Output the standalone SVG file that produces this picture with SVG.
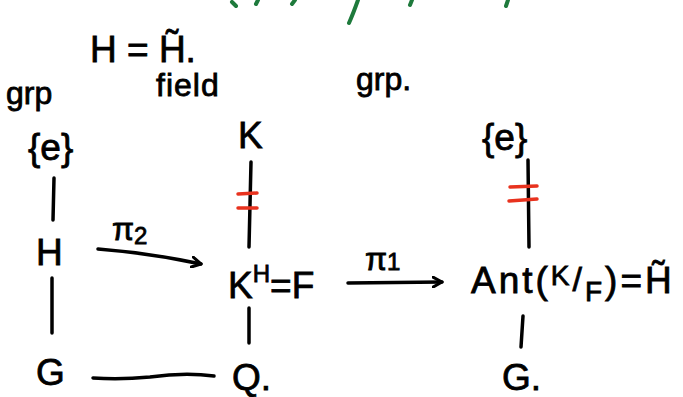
<svg xmlns="http://www.w3.org/2000/svg" width="683" height="397" viewBox="0 0 683 397">
<style>
text{font-family:"Liberation Sans","DejaVu Sans",sans-serif;fill:#000;stroke:#000;stroke-width:0.8}
.n{font-size:37px}
.s{font-size:24px}
.lbl{font-size:32px}
.ln{stroke:#000;stroke-width:3.5;stroke-linecap:round;fill:none}
.red{stroke:#e8321e;stroke-width:3.5;stroke-linecap:round;fill:none}
.grn{stroke:#1e7a3c;stroke-width:4;stroke-linecap:round;fill:none}
</style>
<defs>
<marker id="ah" viewBox="0 0 12 12" refX="10" refY="6" markerWidth="12" markerHeight="12" markerUnits="userSpaceOnUse" orient="auto">
<path d="M1,1 L10,6 L1,11" fill="none" stroke="#000" stroke-width="3" stroke-linecap="round" stroke-linejoin="round"/>
</marker>
</defs>
<rect width="683" height="397" fill="#fff"/>
<g id="green-top">
<path class="grn" d="M232,2 L236,6"/>
<path class="grn" d="M258,0 L256,4"/>
<path class="grn" d="M295,0 L292,4"/>
<path class="grn" d="M358,0 Q353,14 349,23"/>
<path class="grn" d="M412,0 L410,5"/>
<path class="grn" d="M508,0 L506,6"/>
</g>
<g id="note">
<text class="n" x="90" y="62">H = H̃.</text>
</g>
<g id="hdr-grp1"><text class="lbl" x="6" y="104">grp</text></g>
<g id="hdr-field"><text class="lbl" x="156" y="96" letter-spacing="1">field</text></g>
<g id="hdr-grp2"><text class="lbl" x="356" y="90">grp.</text></g>
<g id="n-e1"><text class="n" x="28" y="160">{e}</text></g>
<g id="n-H"><text class="n" x="36" y="265">H</text></g>
<g id="n-G"><text class="n" x="36" y="385">G</text></g>
<g id="n-K"><text class="n" x="238" y="148">K</text></g>
<g id="n-F"><text class="n" x="228" y="298">K<tspan class="s" dy="-16">H</tspan><tspan dy="16">=F</tspan></text></g>
<g id="n-Q"><text class="n" x="232" y="390">Q.</text></g>
<g id="n-e2"><text class="n" x="482" y="150">{e}</text></g>
<g id="n-Aut"><text class="n" x="471" y="293" letter-spacing="3">Ant(<tspan style="font-size:28px" dy="-8">K</tspan><tspan style="font-size:34px" dy="6">/</tspan><tspan style="font-size:28px" dy="10">F</tspan><tspan dy="-8">)=H̃</tspan></text></g>
<g id="n-G2"><text class="n" x="502" y="390">G.</text></g>
<g id="connectors">
<path class="ln" d="M54,178 L53,220"/>
<path class="ln" d="M52,278 L52,333"/>
<path class="ln" d="M93,378 Q120,380 150,377 Q185,372 214,376"/>
<path class="ln" d="M251,162 L249,247"/>
<path class="red" d="M238,194 L257,193"/>
<path class="red" d="M238,208 L257,208"/>
<path class="ln" d="M249,308 L249,343"/>
<path class="ln" d="M528,160 L529,247"/>
<path class="red" d="M510,187 L537,186"/>
<path class="red" d="M509,201 L537,199"/>
<path class="ln" d="M523,316 L521,347"/>
<path class="ln" d="M98,249 Q150,253 201,264" marker-end="url(#ah)"/>
<text class="lbl" x="112" y="240">π<tspan class="s" dy="4">2</tspan></text>
<path class="ln" d="M348,283 L442,282" marker-end="url(#ah)"/>
<text class="lbl" x="365" y="270">π<tspan class="s" dy="0">1</tspan></text>
</g>
</svg>
